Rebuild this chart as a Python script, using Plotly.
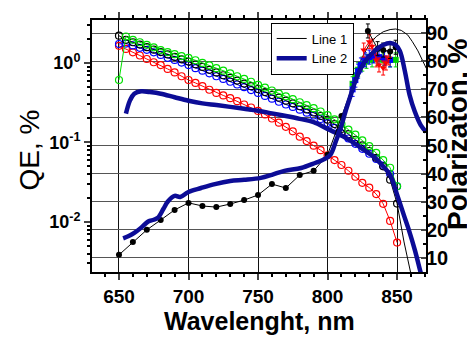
import plotly.graph_objects as go

# ---------------- data ----------------
wl5 = list(range(650, 855, 5))  # 650..850 step 5

qe_red = [1.64, 1.50, 1.36, 1.24, 1.12, 1.02, 0.94, 0.84, 0.76, 0.68,
          0.61, 0.56, 0.51, 0.46, 0.42, 0.39, 0.36, 0.33, 0.30, 0.275,
          0.249, 0.225, 0.20, 0.177, 0.157, 0.138, 0.118, 0.104, 0.091, 0.080,
          0.069, 0.060, 0.052, 0.044, 0.037, 0.031, 0.027, 0.0224, 0.0169, 0.0103,
          0.0055]
qe_green = [0.61, 2.15, 1.95, 1.82, 1.69, 1.57, 1.45, 1.37, 1.29, 1.22,
            1.16, 1.08, 1.00, 0.93, 0.86, 0.80, 0.74, 0.68, 0.63, 0.58,
            0.53, 0.49, 0.45, 0.41, 0.38, 0.35, 0.32, 0.295, 0.27, 0.245,
            0.22, 0.195, 0.17, 0.145, 0.125, 0.106, 0.09, 0.074, 0.06, 0.048,
            0.028]
qe_blue = [1.73, 1.75, 1.66, 1.55, 1.46, 1.36, 1.26, 1.16, 1.09, 1.01,
           0.94, 0.86, 0.80, 0.74, 0.68, 0.63, 0.58, 0.535, 0.495, 0.455,
           0.42, 0.385, 0.355, 0.325, 0.30, 0.28, 0.258, 0.237, 0.218, 0.197,
           0.175, 0.152, 0.13, 0.112, 0.096, 0.083, 0.072, 0.062, 0.051, 0.04,
           0.028]
qe_black = [2.2, 1.95, 1.82, 1.70, 1.58, 1.47, 1.37, 1.28, 1.19, 1.11,
            1.04, 0.96, 0.89, 0.82, 0.76, 0.70, 0.65, 0.60, 0.55, 0.51,
            0.47, 0.43, 0.395, 0.365, 0.335, 0.31, 0.285, 0.26, 0.238, 0.215,
            0.193, 0.17, 0.148, 0.127, 0.108, 0.092, 0.078, 0.064, 0.05, 0.034,
            0.017]
qe_black_tail_wl = [850, 855, 860]
qe_black_tail = [0.017, 0.0056, 0.0022]

qe_line_wl = [655, 658, 661, 666, 672, 680, 690, 700, 710, 720, 730, 740, 750,
              760, 770, 780, 790, 800, 810, 817, 825, 834, 840, 845, 850, 855,
              858, 863, 867, 871]
qe_line = [0.23, 0.34, 0.41, 0.44, 0.43, 0.41, 0.37, 0.335, 0.31, 0.295, 0.28,
           0.265, 0.25, 0.232, 0.215, 0.198, 0.18, 0.148, 0.122, 0.104, 0.083,
           0.064, 0.05, 0.039, 0.022, 0.012, 0.0084, 0.0043, 0.0023, 0.0014]

pol_line_wl = [653, 657, 661, 666, 671, 675, 678, 682, 685, 690, 694, 700, 709,
               719, 730, 740, 752, 760, 769, 781, 791, 797, 802, 806, 809.5,
               813, 816.7, 820, 824, 829, 834, 840, 845, 849, 852, 855.6, 859,
               862.6, 867, 871]
pol_line = [17.0, 17.8, 18.9, 20.8, 23.0, 23.6, 24.3, 27.5, 30.0, 32.1, 31.7,
            33.5, 34.9, 36.3, 37.4, 37.8, 38.5, 39.6, 41.0, 42.0, 43.8, 45.0,
            46.7, 51.6, 56.3, 62.3, 68.0, 73.0, 77.6, 81.2, 83.7, 85.8, 86.5,
            85.8, 83.7, 76.5, 68.0, 62.3, 57.3, 54.8]

pol_dots_wl = [650, 660, 670, 680, 690, 700, 710, 720, 730, 740, 750, 760, 770,
               780, 790, 800, 810]
pol_dots = [11.1, 15.7, 20.0, 23.5, 27.1, 29.6, 28.5, 28.1, 29.2, 30.6, 32.4,
            36.3, 34.9, 39.5, 41.0, 46.7, 60.5]
pol_fit_wl = [810, 815, 820, 825, 830, 835, 840, 845, 849, 853, 857.6, 861,
              865, 871]
pol_fit = [60.5, 67.0, 75.0, 81.5, 86.0, 88.8, 90.5, 91.3, 91.5, 91.0, 89.4,
           87.0, 83.7, 77.5]

peak_black_wl = [829, 836, 840, 845, 849]
peak_black = [90.8, 84.5, 84.0, 83.5, 85.0]
peak_red_wl = [826, 830, 832, 835, 837, 840, 842, 844]
peak_red = [84.0, 87.0, 85.4, 80.5, 78.7, 77.6, 79.4, 81.2]
peak_green_wl = [818, 820, 822, 825, 828, 832, 836, 840, 845, 849]
peak_green = [72.0, 75.0, 77.0, 79.0, 80.0, 80.5, 81.0, 80.5, 80.5, 80.5]
peak_blue_wl = [818, 820, 822, 824, 827, 830, 833, 837, 841, 845]
peak_blue = [70.0, 73.3, 76.5, 78.7, 80.5, 81.5, 81.9, 81.5, 81.0, 80.5]
peak_err = 2.5

x_ticks = [650, 700, 750, 800, 850]
y_ticks = [0.01, 0.1, 1]
y_ticktext = ["10<sup>-2</sup>", "10<sup>-1</sup>", "10<sup>0</sup>"]
y2_ticks = [10, 20, 30, 40, 50, 60, 70, 80, 90]

FONT = "Liberation Sans, Arial, sans-serif"
NAVY = "#0c0c96"

fig = go.Figure()


def circ(x, y, color):
    fig.add_trace(go.Scatter(
        x=x, y=y, mode="lines+markers", yaxis="y", showlegend=False,
        line=dict(color=color, width=1),
        marker=dict(symbol="circle-open", size=7, color=color, line=dict(width=1.2, color=color)),
    ))


circ(wl5, qe_red, "#ff0000")
circ(wl5, qe_blue, "#0000ff")
circ(wl5, qe_black, "#000000")
circ(wl5, qe_green, "#00e000")
fig.add_trace(go.Scatter(x=qe_black_tail_wl, y=qe_black_tail, mode="lines", yaxis="y",
                         showlegend=False, line=dict(color="black", width=1)))
fig.add_trace(go.Scatter(x=qe_line_wl, y=qe_line, mode="lines", yaxis="y", showlegend=False,
                         line=dict(color=NAVY, width=4.5, shape="spline")))

# polarization (right axis)
fig.add_trace(go.Scatter(x=pol_dots_wl + pol_fit_wl[1:], y=pol_dots + pol_fit[1:], mode="lines",
                         yaxis="y2", name="Line 1", line=dict(color="black", width=1)))
fig.add_trace(go.Scatter(x=pol_dots_wl, y=pol_dots, mode="markers", yaxis="y2", showlegend=False,
                         marker=dict(symbol="circle", size=6, color="black")))


def peak(x, y, color, symbol):
    fig.add_trace(go.Scatter(
        x=x, y=y, mode="lines+markers", yaxis="y2", showlegend=False,
        line=dict(color=color, width=1),
        marker=dict(symbol=symbol, size=6, color=color),
        error_y=dict(type="constant", value=peak_err, color=color, thickness=1, width=2),
    ))


peak(peak_green_wl, peak_green, "#00d000", "square")
peak(peak_blue_wl, peak_blue, "#0000ff", "square")
peak(peak_red_wl, peak_red, "#ff0000", "triangle-down")
peak(peak_black_wl, peak_black, "#000000", "circle")

fig.add_trace(go.Scatter(x=pol_line_wl, y=pol_line, mode="lines", yaxis="y2", name="Line 2",
                         line=dict(color=NAVY, width=4.5, shape="spline")))

fig.update_layout(
    width=475, height=341,
    margin=dict(l=84, r=57, t=12, b=77, autoexpand=False),
    paper_bgcolor="white", plot_bgcolor="white",
    font=dict(family=FONT, color="black"),
    xaxis=dict(
        automargin=False,
        range=[630.6, 870.8], tickvals=x_ticks, ticks="outside", ticklen=6, tickwidth=2,
        showline=True, linewidth=2, linecolor="black", mirror="ticks",
        showgrid=True, gridcolor="#111", gridwidth=1, zeroline=False,
        tickfont=dict(size=19, family=FONT, weight="bold"),
        minor=dict(dtick=10, ticks="outside", ticklen=3, tickwidth=2, tickcolor="black", showgrid=False),
    ),
    yaxis=dict(
        automargin=False,
        type="log", range=[-2.63, 0.54], tickvals=y_ticks, ticktext=y_ticktext,
        ticks="outside", ticklen=6, tickwidth=2, showline=True, linewidth=2, linecolor="black",
        showgrid=False, zeroline=False,
        tickfont=dict(size=18, family=FONT, weight="bold"),
        minor=dict(tickvals=[0.003, 0.004, 0.005, 0.006, 0.007, 0.008, 0.009,
                             0.02, 0.03, 0.04, 0.05, 0.06, 0.07, 0.08, 0.09,
                             0.2, 0.3, 0.4, 0.5, 0.6, 0.7, 0.8, 0.9, 2, 3],
                   ticks="outside", ticklen=3, tickwidth=2, tickcolor="black", showgrid=False),
    ),
    yaxis2=dict(
        automargin=False,
        range=[5, 94.7], overlaying="y", side="right", tickvals=y2_ticks,
        ticks="inside", ticklen=5, tickwidth=2, showline=True, linewidth=2, linecolor="black",
        showgrid=True, gridcolor="#555", gridwidth=1, zeroline=False,
        ticklabelstandoff=-6,
        tickfont=dict(size=20, family=FONT, weight="bold"),
        minor=dict(dtick=5, ticks="inside", ticklen=3, tickwidth=2, tickcolor="black", showgrid=False),
    ),
    legend=dict(x=0.535, y=0.99, xanchor="left", yanchor="top", bgcolor="white",
                bordercolor="black", borderwidth=1, font=dict(size=13, family=FONT),
                tracegroupgap=0, itemwidth=30),
    annotations=[
        dict(text="Wavelenght, nm", xref="paper", yref="paper", x=0.5, y=-0.195,
             xanchor="center", yanchor="middle", showarrow=False,
             font=dict(size=25, family=FONT, weight="bold")),
        dict(text="QE, %", xref="paper", yref="paper", x=-0.19, y=0.484, textangle=-90,
             xanchor="center", yanchor="middle", showarrow=False,
             font=dict(size=28, family=FONT)),
        dict(text="Polarizaton, %", xref="paper", yref="paper", x=1.096, y=0.544, textangle=-90,
             xanchor="center", yanchor="middle", showarrow=False,
             font=dict(size=28, family=FONT, weight="bold")),
    ],
)

fig.write_html("out.html")
